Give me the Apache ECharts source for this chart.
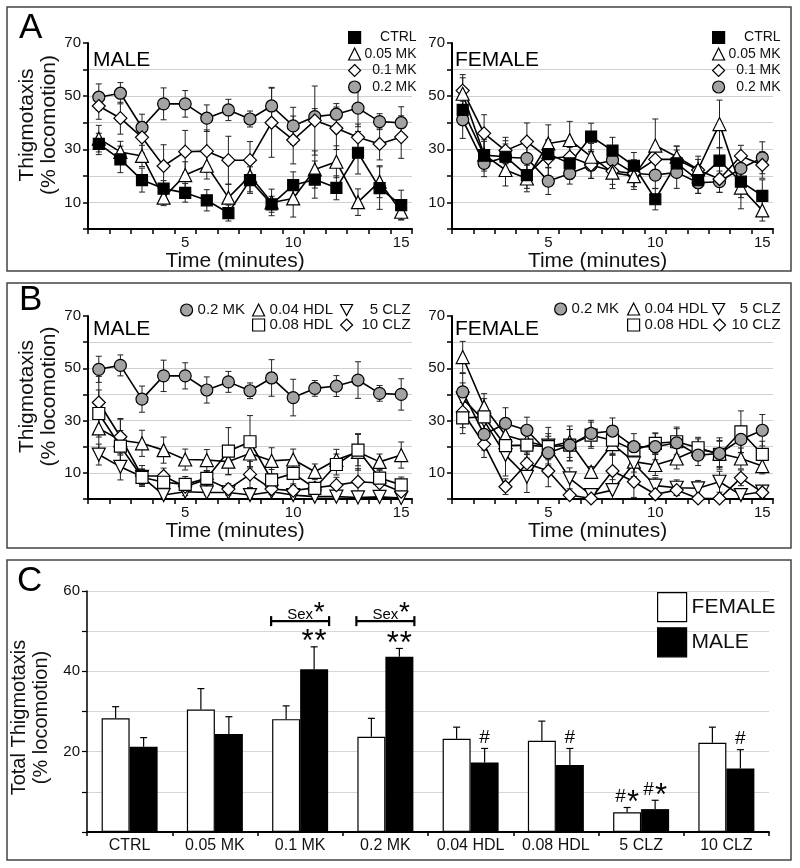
<!DOCTYPE html>
<html>
<head>
<meta charset="utf-8">
<script src="https://cdn.jsdelivr.net/npm/echarts@6/dist/echarts.min.js"></script>
<style>
  html, body { margin: 0; padding: 0; background: #fff; }
  #chart { width: 800px; height: 868px; }
</style>
</head>
<body>
<div id="chart"></div>
<script>
const FONT = '"Liberation Sans", Arial, sans-serif'

const minutes = ['1', '2', '3', '4', '5', '6', '7', '8', '9', '10', '11', '12', '13', '14', '15']

// panel A, male
const aMaleCtrl = [32.0, 26.2, 18.4, 15.2, 13.6, 10.8, 6.0, 18.4, 9.3, 16.5, 18.6, 15.5, 28.7, 15.4, 9.0]
const aMaleCtrlSe = [4, 5, 4.5, 3, 3.5, 4, 3, 5, 3, 5, 7, 4.5, 8, 8, 5.6]
const aMaleMk005 = [34, 29, 27.5, 11.8, 20.3, 23.8, 11.8, 20, 10, 11.5, 22.4, 25.3, 10.1, 17.8, 6.5]
const aMaleMk005Se = [5, 4, 4, 3, 5, 5, 5, 6, 5, 7, 7, 6, 5, 6, 3]
const aMaleMk01 = [46.3, 41.7, 34.5, 23.7, 29.1, 29.3, 25.9, 25.9, 40.0, 33.5, 40.8, 37.9, 34.5, 32.0, 34.6]
const aMaleMk01Se = [5, 6, 6, 8, 8, 8, 9, 7, 13, 9, 13, 8, 5, 6, 8]
const aMaleMk02 = [49.6, 51.1, 38.2, 47.1, 47.1, 41.7, 44.8, 41.4, 46.3, 38.8, 42.3, 43.2, 45.5, 40.4, 40.0]
const aMaleMk02Se = [5, 4, 5, 6, 5, 5, 4, 3, 7, 7, 3, 4, 7, 3, 6]

// panel A, female
const aFemCtrl = [44.8, 27.8, 27.2, 20.3, 28.2, 24.7, 34.8, 29.5, 23.8, 11.2, 24.7, 18.4, 25.7, 17.8, 12.5]
const aFemCtrlSe = [5, 6, 6, 5, 5, 6, 5, 5, 5, 4, 5, 5, 5, 6, 6]
const aFemMk005 = [50.9, 28, 22.2, 19, 32.2, 33.5, 27.2, 21.2, 19.9, 31.4, 27.2, 22.4, 39.5, 15.6, 7]
const aFemMk005Se = [6, 5, 6, 5, 7, 7, 5, 6, 5, 10, 4, 5, 9, 8, 4]
const aFemMk01 = [52.1, 36, 29.5, 32.9, 26.6, 27.2, 24.1, 21.8, 20.9, 26.2, 26.2, 22.2, 18.8, 27.5, 24.1]
const aFemMk01Se = [6, 7, 5, 7, 7, 5, 5, 5, 5, 5, 5, 4, 5, 4, 5]
const aFemMk02 = [41.1, 24.7, 27, 26.6, 18, 20.9, 24, 25.9, 21, 20.3, 21.3, 17.4, 17.8, 22.8, 26.8]
const aFemMk02Se = [7, 5, 5, 5, 5, 4, 5, 5, 5, 5, 6, 4, 4, 5, 6]

// panel B, male (0.2 MK is the same group as in A)
const bMaleHdl004 = [27, 22.5, 21.3, 18.7, 15.1, 14.9, 14.3, 17.4, 14.6, 15.1, 10.4, 15, 18, 14.2, 16.8]
const bMaleHdl004Se = [8, 8, 5, 5, 4, 4, 5, 5, 5, 4, 3, 4, 7, 3, 5]
const bMaleHdl008 = [32.7, 20.2, 8.3, 6.4, 5.6, 7.9, 18.3, 21.9, 7.3, 9.8, 4.1, 13.2, 18.7, 8, 5.4]
const bMaleHdl008Se = [9, 6, 3, 3, 3, 3, 9, 10, 4, 4, 2, 4, 6, 3, 3]
const bMaleClz5 = [17, 12.3, 8.5, 1.5, 2.8, 2.5, 2.5, 1.5, 2.8, 1.5, 0.9, 0.9, 0.6, 0.8, 0.4]
const bMaleClz5Se = [4, 5, 3, 1, 1.5, 1, 1, 1, 1, 1, 1, 1, 1, 1, 1]
const bMaleClz10 = [36.9, 23.8, 8.8, 8.8, 4.7, 7.6, 3.8, 9.4, 3.8, 3.2, 4.3, 5.3, 6.6, 6.1, 2.8]
const bMaleClz10Se = [10, 7, 4, 3, 2, 3, 2, 5, 2, 2, 2, 3, 5, 3, 2]

// panel B, female
const bFemMk02 = [41, 24.7, 28.9, 26.3, 17.7, 20.6, 25.1, 26, 20, 20, 21.5, 16.8, 17.4, 22.8, 26.3]
const bFemMk02Se = [7, 6, 6, 5, 5, 6, 5, 5, 5, 5, 6, 4, 6, 5, 6]
const bFemHdl004 = [54.3, 35.3, 24.4, 22, 20, 21.9, 10.4, 21, 14.3, 13, 15.5, 19, 17.4, 15.5, 12.6]
const bFemHdl004Se = [6, 5, 5, 5, 5, 6, 2, 4, 4, 4, 4, 4, 5, 4, 3]
const bFemHdl008 = [31, 31.4, 20.4, 20.6, 20, 20.6, 24.4, 22.5, 18.7, 21.3, 21.9, 19.6, 17.1, 25.7, 17.1]
const bFemHdl008Se = [6, 7, 4, 5, 4, 6, 5, 5, 3, 4, 5, 4, 5, 8, 5]
const bFemClz5 = [38.4, 30, 16.8, 8.5, 20.4, 7.9, 1.5, 3.4, 13.6, 5.1, 4.3, 4.1, 6.6, 1.5, 2.8]
const bFemClz5Se = [6, 6, 8, 6, 7, 4, 1, 4, 5, 3, 3, 3, 4, 1, 2]
const bFemClz10 = [33.3, 20.9, 4.7, 13.6, 10.7, 1.5, 0.2, 10.7, 6.6, 1.8, 3.4, 0.2, 0.2, 8.1, 2.5]
const bFemClz10Se = [6, 5, 3, 4, 6, 1, 0.5, 6, 6, 1, 2, 0.5, 0.5, 3, 2]

// panel C
const groups = ['CTRL', '0.05 MK', '0.1 MK', '0.2 MK', '0.04 HDL', '0.08 HDL', '5 CLZ', '10 CLZ']
const femTotal = [28.3, 30.5, 28.1, 23.7, 23.2, 22.7, 4.9, 22.2]
const femTotalSe = [2.9, 5.2, 3.3, 4.6, 2.9, 4.9, 1.2, 3.9]
const maleTotal = [21.2, 24.4, 40.5, 43.6, 17.3, 16.7, 5.7, 15.8]
const maleTotalSe = [2.3, 4.3, 5.6, 2.1, 3.5, 4.1, 2.2, 4.7]
const femaleMarks = ['', '', '', '', '', '', '#*', '']
const maleMarks = ['', '', '**', '**', '#', '#', '#*', '#']
const sexEffect = [false, false, true, true, false, false, false, false]
const sexBracketLevel = 52.5

const BAR_W = 28
const GRAY = '#a3a3a3'
const INV_TRI = 'path://M0,0L12,0L6,11Z'

const grids = [
    { left: 88, top: 43, width: 324, height: 186 },
    { left: 452, top: 43, width: 321, height: 186 },
    { left: 88, top: 316, width: 324, height: 183 },
    { left: 452, top: 316, width: 321, height: 183 },
    { left: 87, top: 591, width: 682, height: 241 }
]

function timeAxis(g) {
    return {
        type: 'category', gridIndex: g, data: minutes,
        name: 'Time (minutes)', nameLocation: 'middle', nameGap: 13,
        nameTextStyle: { fontSize: 21, color: '#111', padding: [0, 30, 0, 0] },
        axisLine: { lineStyle: { color: '#000', width: 2 } },
        axisTick: { show: true, interval: 0, length: 5, lineStyle: { color: '#000', width: 1.5 } },
        axisLabel: { interval: (i) => (i + 1) % 5 === 0, fontSize: 15, color: '#111', margin: 6 },
        splitLine: { show: false }
    }
}

function pctAxis(g, withName) {
    return {
        type: 'value', gridIndex: g, min: 0, max: 70, interval: 10,
        name: withName ? 'Thigmotaxis\n(% locomotion)' : '',
        nameLocation: 'middle', nameGap: 28,
        nameTextStyle: { fontSize: 21, lineHeight: 22, color: '#111', padding: [0, 0, 0, 22] },
        axisLine: { show: true, lineStyle: { color: '#000', width: 2 } },
        axisTick: { show: true, length: 5, lineStyle: { color: '#000', width: 1.5 } },
        axisLabel: { fontSize: 15, color: '#111', margin: 7, formatter: (v) => (v % 20 === 10 ? v : '') },
        splitLine: { show: true, showMinLine: false, showMaxLine: false, lineStyle: { color: '#cfcfcf', width: 1 } }
    }
}

function line(name, data, g, symbol, fill, size, rotate) {
    return {
        type: 'line', name: name, data: data, xAxisIndex: g, yAxisIndex: g, z: 3,
        symbol: symbol, symbolSize: size, symbolRotate: rotate || 0,
        itemStyle: { color: fill, borderColor: '#000', borderWidth: 1.2 },
        lineStyle: { color: '#000', width: 1.6 },
        emphasis: { disabled: true }
    }
}

function errBars(vals, se, g) {
    return {
        type: 'custom', xAxisIndex: g, yAxisIndex: g, z: 2, silent: true,
        data: vals.map((v, i) => [i, Math.max(v - se[i], 0), v + se[i]]),
        renderItem: (params, api) => {
            const lo = api.coord([api.value(0), api.value(1)])
            const hi = api.coord([api.value(0), api.value(2)])
            const st = { stroke: '#222', lineWidth: 1 }
            return {
                type: 'group', children: [
                    { type: 'line', shape: { x1: lo[0], y1: lo[1], x2: hi[0], y2: hi[1] }, style: st },
                    { type: 'line', shape: { x1: hi[0] - 3, y1: hi[1], x2: hi[0] + 3, y2: hi[1] }, style: st },
                    { type: 'line', shape: { x1: lo[0] - 3, y1: lo[1], x2: lo[0] + 3, y2: lo[1] }, style: st }
                ]
            }
        }
    }
}

function barErr(vals, se, side) {
    return {
        type: 'custom', xAxisIndex: 4, yAxisIndex: 4, z: 3, silent: true,
        data: vals.map((v, i) => [i, v, v + se[i]]),
        renderItem: (params, api) => {
            const b = api.coord([api.value(0), api.value(1)])
            const t = api.coord([api.value(0), api.value(2)])
            const x = b[0] + side * BAR_W / 2
            const st = { stroke: '#000', lineWidth: 1.2 }
            return {
                type: 'group', children: [
                    { type: 'line', shape: { x1: x, y1: b[1], x2: x, y2: t[1] }, style: st },
                    { type: 'line', shape: { x1: x - 3.5, y1: t[1], x2: x + 3.5, y2: t[1] }, style: st }
                ]
            }
        }
    }
}

// '#' and '*' glyphs drawn above an error bar top
function marks(str, cx, yTop) {
    const out = []
    if (!str) return out
    const w = { '#': 10, '*': 11 }
    const gap = 2
    let total = 0
    for (const ch of str) total += w[ch]
    total += gap * (str.length - 1)
    let x = cx - total / 2
    const cy = yTop - 11
    for (const ch of str) {
        const star = ch === '*'
        out.push({
            type: 'text', x: x + w[ch] / 2, y: star ? cy + 7 : cy,
            style: {
                text: ch, fill: '#000', align: 'center', verticalAlign: 'middle',
                font: (star ? '31px ' : '19px ') + FONT
            }
        })
        x += w[ch] + gap
    }
    return out
}

function annotations() {
    return {
        type: 'custom', xAxisIndex: 4, yAxisIndex: 4, z: 5, silent: true,
        data: groups.map((g, i) => [i, femTotal[i] + femTotalSe[i], maleTotal[i] + maleTotalSe[i]]),
        renderItem: (params, api) => {
            const i = api.value(0)
            const f = api.coord([i, api.value(1)])
            const m = api.coord([i, api.value(2)])
            let kids = marks(femaleMarks[i], f[0] - BAR_W / 2, f[1]).concat(marks(maleMarks[i], m[0] + BAR_W / 2, m[1]))
            if (sexEffect[i]) {
                const p = api.coord([i, sexBracketLevel])
                const x1 = p[0] - BAR_W - 1, x2 = p[0] + BAR_W + 1, y = p[1]
                const st = { stroke: '#000', lineWidth: 2.2 }
                kids = kids.concat([
                    { type: 'line', shape: { x1: x1, y1: y, x2: x2, y2: y }, style: st },
                    { type: 'line', shape: { x1: x1, y1: y - 5, x2: x1, y2: y + 5 }, style: st },
                    { type: 'line', shape: { x1: x2, y1: y - 5, x2: x2, y2: y + 5 }, style: st },
                    { type: 'text', x: p[0], y: y - 6, style: { text: 'Sex', fill: '#000', align: 'center', verticalAlign: 'middle', font: '15px ' + FONT } },
                    { type: 'text', x: p[0] + 19, y: y - 8, style: { text: '*', fill: '#000', align: 'center', verticalAlign: 'middle', font: '28px ' + FONT } }
                ])
            }
            return { type: 'group', children: kids }
        }
    }
}

function legendItem(name, icon, left, top, rightWidth) {
    const lg = {
        left: left, top: top, padding: 0, itemWidth: 12, itemHeight: 12,
        selectedMode: false,
        data: [{ name: name, icon: icon }],
        itemStyle: { borderColor: '#000', borderWidth: 1.2 },
        textStyle: { fontSize: 15, lineHeight: 16, color: '#111' }
    }
    if (rightWidth) {
        lg.formatter = (n) => '{t|' + n + '}'
        lg.textStyle.rich = { t: { width: rightWidth, align: 'right', fontSize: 15, color: '#111' } }
    }
    return lg
}

function legendA(left) {
    return {
        orient: 'vertical', left: left, top: 29.5, padding: 0, itemWidth: 12, itemHeight: 12, itemGap: 0.5,
        selectedMode: false,
        data: [{ name: 'CTRL', icon: 'rect' }, { name: '0.05 MK', icon: 'triangle' },
               { name: '0.1 MK', icon: 'diamond' }, { name: '0.2 MK', icon: 'circle' }],
        itemStyle: { borderColor: '#000', borderWidth: 1.2 },
        formatter: (n) => '{t|' + n + '}',
        textStyle: { fontSize: 14, lineHeight: 16, color: '#111', rich: { t: { width: 51, align: 'right', fontSize: 14, color: '#111' } } }
    }
}

const series = [
    errBars(aMaleMk02, aMaleMk02Se, 0), errBars(aMaleMk01, aMaleMk01Se, 0),
    errBars(aMaleMk005, aMaleMk005Se, 0), errBars(aMaleCtrl, aMaleCtrlSe, 0),
    line('0.2 MK', aMaleMk02, 0, 'circle', GRAY, 12),
    line('0.1 MK', aMaleMk01, 0, 'diamond', '#fff', 13),
    line('0.05 MK', aMaleMk005, 0, 'triangle', '#fff', 13),
    line('CTRL', aMaleCtrl, 0, 'rect', '#000', 11),

    errBars(aFemMk02, aFemMk02Se, 1), errBars(aFemMk01, aFemMk01Se, 1),
    errBars(aFemMk005, aFemMk005Se, 1), errBars(aFemCtrl, aFemCtrlSe, 1),
    line('0.2 MK', aFemMk02, 1, 'circle', GRAY, 12),
    line('0.1 MK', aFemMk01, 1, 'diamond', '#fff', 13),
    line('0.05 MK', aFemMk005, 1, 'triangle', '#fff', 13),
    line('CTRL', aFemCtrl, 1, 'rect', '#000', 11),

    errBars(aMaleMk02, aMaleMk02Se, 2), errBars(bMaleHdl004, bMaleHdl004Se, 2),
    errBars(bMaleHdl008, bMaleHdl008Se, 2), errBars(bMaleClz5, bMaleClz5Se, 2),
    errBars(bMaleClz10, bMaleClz10Se, 2),
    line('0.2 MK', aMaleMk02, 2, 'circle', GRAY, 12),
    line('0.04 HDL', bMaleHdl004, 2, 'triangle', '#fff', 13),
    line('5 CLZ', bMaleClz5, 2, 'triangle', '#fff', 13, 180),
    line('10 CLZ', bMaleClz10, 2, 'diamond', '#fff', 13),
    line('0.08 HDL', bMaleHdl008, 2, 'rect', '#fff', 12),

    errBars(bFemMk02, bFemMk02Se, 3), errBars(bFemHdl004, bFemHdl004Se, 3),
    errBars(bFemHdl008, bFemHdl008Se, 3), errBars(bFemClz5, bFemClz5Se, 3),
    errBars(bFemClz10, bFemClz10Se, 3),
    line('0.04 HDL', bFemHdl004, 3, 'triangle', '#fff', 13),
    line('5 CLZ', bFemClz5, 3, 'triangle', '#fff', 13, 180),
    line('10 CLZ', bFemClz10, 3, 'diamond', '#fff', 13),
    line('0.08 HDL', bFemHdl008, 3, 'rect', '#fff', 12),
    line('0.2 MK', bFemMk02, 3, 'circle', GRAY, 12),

    {
        type: 'bar', name: 'FEMALE', xAxisIndex: 4, yAxisIndex: 4, data: femTotal,
        barWidth: BAR_W, barGap: '0%',
        itemStyle: { color: '#fff', borderColor: '#000', borderWidth: 1.2 }
    },
    {
        type: 'bar', name: 'MALE', xAxisIndex: 4, yAxisIndex: 4, data: maleTotal,
        barWidth: BAR_W, barGap: '0%',
        itemStyle: { color: '#000' }
    },
    barErr(femTotal, femTotalSe, -1),
    barErr(maleTotal, maleTotalSe, 1),
    annotations()
]

const option = {
    animation: false,
    textStyle: { fontFamily: FONT },
    grid: grids,
    xAxis: [
        timeAxis(0), timeAxis(1), timeAxis(2), timeAxis(3),
        {
            type: 'category', gridIndex: 4, data: groups,
            axisLine: { lineStyle: { color: '#000', width: 2 } },
            axisTick: { show: true, interval: 0, length: 4, lineStyle: { color: '#000', width: 1.5 } },
            axisLabel: { interval: 0, fontSize: 16, color: '#111', margin: 6 }
        }
    ],
    yAxis: [
        pctAxis(0, true), pctAxis(1, false), pctAxis(2, true), pctAxis(3, false),
        {
            type: 'value', gridIndex: 4, min: 0, max: 60, interval: 10,
            name: 'Total Thigmotaxis\n(% locomotion)', nameLocation: 'middle', nameGap: 27,
            nameTextStyle: { fontSize: 20, lineHeight: 22, color: '#111', padding: [0, 12, 0, 0] },
            axisLine: { show: true, lineStyle: { color: '#000', width: 1.5 } },
            axisTick: { show: true, length: 5, lineStyle: { color: '#000', width: 1.2 } },
            axisLabel: { fontSize: 15, color: '#111', margin: 7, formatter: (v) => (v > 0 && v % 20 === 0 ? v : '') },
            splitLine: { show: true, showMinLine: false, lineStyle: { color: '#d6d6d6', width: 1 } }
        }
    ],
    legend: [
        legendA(348),
        legendA(712),
        legendItem('0.2 MK', 'circle', 180, 302),
        legendItem('0.04 HDL', 'triangle', 252, 302),
        legendItem('5 CLZ', INV_TRI, 340, 302, 53),
        legendItem('0.08 HDL', 'rect', 252, 317),
        legendItem('10 CLZ', 'diamond', 340, 317, 53),
        legendItem('0.2 MK', 'circle', 554, 301),
        legendItem('0.04 HDL', 'triangle', 627, 301),
        legendItem('5 CLZ', INV_TRI, 712, 301, 51),
        legendItem('0.08 HDL', 'rect', 627, 317),
        legendItem('10 CLZ', 'diamond', 713, 317, 50),
        {
            orient: 'vertical', left: 657, top: 592, padding: 0, itemWidth: 29, itemHeight: 29, itemGap: 5,
            selectedMode: false, icon: 'rect',
            data: ['FEMALE', 'MALE'],
            itemStyle: { borderColor: '#000', borderWidth: 1.2 },
            textStyle: { fontSize: 21, color: '#111' }
        }
    ],
    graphic: [
        { type: 'rect', shape: { x: 7, y: 7, width: 784, height: 264 }, style: { fill: 'none', stroke: '#444', lineWidth: 1.5 } },
        { type: 'rect', shape: { x: 7, y: 283, width: 784, height: 265 }, style: { fill: 'none', stroke: '#444', lineWidth: 1.5 } },
        { type: 'rect', shape: { x: 7, y: 560, width: 784, height: 300 }, style: { fill: 'none', stroke: '#444', lineWidth: 1.5 } },
        { type: 'text', x: 19, y: 28, style: { text: 'A', font: '35px ' + FONT, fill: '#000', verticalAlign: 'middle' } },
        { type: 'text', x: 19, y: 300, style: { text: 'B', font: '35px ' + FONT, fill: '#000', verticalAlign: 'middle' } },
        { type: 'text', x: 17, y: 581, style: { text: 'C', font: '35px ' + FONT, fill: '#000', verticalAlign: 'middle' } },
        { type: 'text', x: 93, y: 60, style: { text: 'MALE', font: '21px ' + FONT, fill: '#000', verticalAlign: 'middle' } },
        { type: 'text', x: 455, y: 60, style: { text: 'FEMALE', font: '21px ' + FONT, fill: '#000', verticalAlign: 'middle' } },
        { type: 'text', x: 93, y: 329, style: { text: 'MALE', font: '21px ' + FONT, fill: '#000', verticalAlign: 'middle' } },
        { type: 'text', x: 455, y: 329, style: { text: 'FEMALE', font: '21px ' + FONT, fill: '#000', verticalAlign: 'middle' } }
    ],
    series: series
}

const chart = echarts.init(document.getElementById('chart'))
chart.setOption(option)
</script>
</body>
</html>
